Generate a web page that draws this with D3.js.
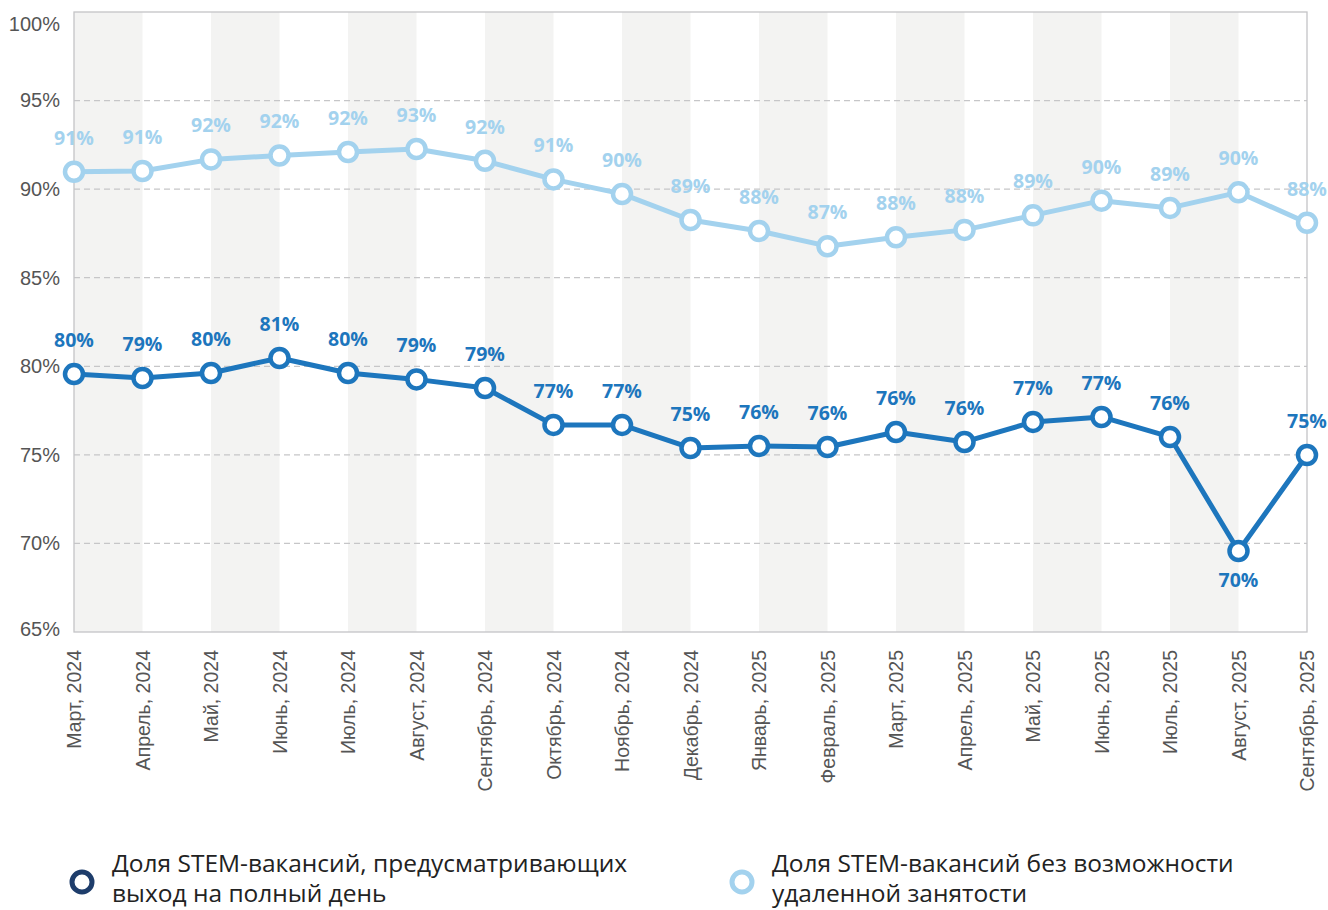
<!DOCTYPE html>
<html>
<head>
<meta charset="utf-8">
<script src="https://cdn.jsdelivr.net/npm/d3@7"></script>
<style>
  body { margin: 0; background: #fff; }
  svg { font-family: "Open Sans", "Noto Sans", sans-serif; }
  .axis text { fill: #555; }
  .axis path, .axis line { display: none; }
</style>
</head>
<body>
<svg id="chart" width="1328" height="910"></svg>
<script>
const months = [
  "Март, 2024", "Апрель, 2024", "Май, 2024", "Июнь, 2024", "Июль, 2024",
  "Август, 2024", "Сентябрь, 2024", "Октябрь, 2024", "Ноябрь, 2024", "Декабрь, 2024",
  "Январь, 2025", "Февраль, 2025", "Март, 2025", "Апрель, 2025", "Май, 2025",
  "Июнь, 2025", "Июль, 2025", "Август, 2025", "Сентябрь, 2025"
];

// share of STEM vacancies without remote option
const noRemote = [90.98, 91.02, 91.68, 91.90, 92.10, 92.27, 91.60, 90.55, 89.73, 88.26,
  87.64, 86.78, 87.28, 87.70, 88.52, 89.35, 88.94, 89.82, 88.10];
const noRemoteLabels = [91, 91, 92, 92, 92, 93, 92, 91, 90, 89, 88, 87, 88, 88, 89, 90, 89, 90, 88];

// share of STEM vacancies with full-day office attendance
const fullDay = [79.56, 79.34, 79.62, 80.47, 79.62, 79.26, 78.77, 76.69, 76.69, 75.39,
  75.50, 75.44, 76.29, 75.73, 76.86, 77.14, 76.01, 69.57, 74.99];
const fullDayLabels = [80, 79, 80, 81, 80, 79, 79, 77, 77, 75, 76, 76, 76, 76, 77, 77, 76, 70, 75];

const yTicks = [65, 70, 75, 80, 85, 90, 95, 100];

const legendItems = [
  { lines: ["Доля STEM-вакансий, предусматривающих", "выход на полный день"], color: "#1e3d6b" },
  { lines: ["Доля STEM-вакансий без возможности", "удаленной занятости"], color: "#a3d2ee" }
];

const lightColor = "#a3d2ee";
const darkColor = "#1d76bd";

const margin = { top: 12, left: 74, right: 21, bottom: 278 };
const width = 1328, height = 910;

const svg = d3.select("#chart");

const x = d3.scalePoint()
  .domain(months)
  .range([margin.left, width - margin.right]);

const y = d3.scaleLinear()
  .domain([65, 100])
  .range([height - margin.bottom, margin.top]);

// alternating grey bands between months
const bands = svg.append("g");
months.slice(0, -1).forEach((m, i) => {
  if (i % 2 === 0) {
    bands.append("rect")
      .attr("x", x(m))
      .attr("y", y(100))
      .attr("width", x(months[i + 1]) - x(m))
      .attr("height", y(65) - y(100))
      .attr("fill", "#f3f3f2");
  }
});

// dashed gridlines
svg.append("g")
  .selectAll("line")
  .data(yTicks.filter(t => t > 65 && t < 100))
  .enter().append("line")
  .attr("x1", x.range()[0])
  .attr("x2", x.range()[1])
  .attr("y1", d => y(d))
  .attr("y2", d => y(d))
  .attr("stroke", "#c6c6c8")
  .attr("stroke-width", 1.2)
  .attr("stroke-dasharray", "6,4");

// frame
svg.append("rect")
  .attr("x", x.range()[0])
  .attr("y", y(100))
  .attr("width", x.range()[1] - x.range()[0])
  .attr("height", y(65) - y(100))
  .attr("fill", "none")
  .attr("stroke", "#c4c4c6")
  .attr("stroke-width", 1.3);

// y axis
const yAxis = d3.axisLeft(y)
  .tickValues(yTicks)
  .tickFormat(d => d + "%")
  .tickSize(0)
  .tickPadding(14);

const yG = svg.append("g")
  .attr("class", "axis y")
  .attr("transform", "translate(" + margin.left + ",0)")
  .call(yAxis);
yG.selectAll("text")
  .attr("font-size", "20px")
  .attr("dy", (d) => d === 100 ? "0.9em" : (d === 65 ? "0.15em" : "0.32em"));

// x axis, rotated labels
const xAxis = d3.axisBottom(x).tickSize(0);
const xG = svg.append("g")
  .attr("class", "axis x")
  .attr("transform", "translate(0," + (height - margin.bottom) + ")")
  .call(xAxis);
xG.selectAll("text")
  .attr("font-size", "19.5px")
  .attr("transform", "rotate(-90)")
  .attr("text-anchor", "end")
  .attr("x", -18)
  .attr("y", 0)
  .attr("dy", "0.35em");

function drawSeries(values, labels, color, labelBelow) {
  const line = d3.line()
    .x((d, i) => x(months[i]))
    .y(d => y(d));

  svg.append("path")
    .datum(values)
    .attr("d", line)
    .attr("fill", "none")
    .attr("stroke", color)
    .attr("stroke-width", 5)
    .attr("stroke-linejoin", "round");

  svg.append("g")
    .selectAll("circle")
    .data(values)
    .enter().append("circle")
    .attr("cx", (d, i) => x(months[i]))
    .attr("cy", d => y(d))
    .attr("r", 9)
    .attr("fill", "#fff")
    .attr("stroke", color)
    .attr("stroke-width", 4.5);

  svg.append("g")
    .selectAll("text")
    .data(values)
    .enter().append("text")
    .attr("x", (d, i) => x(months[i]))
    .attr("y", (d, i) => labelBelow(i) ? y(d) + 36 : y(d) - 27)
    .attr("text-anchor", "middle")
    .attr("font-size", "19.5px")
    .attr("font-weight", "bold")
    .attr("fill", color)
    .text((d, i) => labels[i] + "%");
}

drawSeries(noRemote, noRemoteLabels, lightColor, () => false);
drawSeries(fullDay, fullDayLabels, darkColor, (i) => fullDay[i] === d3.min(fullDay));

// legend
const legendX = [82, 742];
legendItems.forEach((item, i) => {
  const g = svg.append("g").attr("transform", "translate(" + legendX[i] + ",882)");
  g.append("circle")
    .attr("r", 10)
    .attr("fill", "#fff")
    .attr("stroke", item.color)
    .attr("stroke-width", 5);
  item.lines.forEach((t, j) => {
    g.append("text")
      .attr("x", 30)
      .attr("y", -10 + j * 30)
      .attr("font-size", "24.5px")
      .attr("fill", "#222")
      .text(t);
  });
});
</script>
</body>
</html>
